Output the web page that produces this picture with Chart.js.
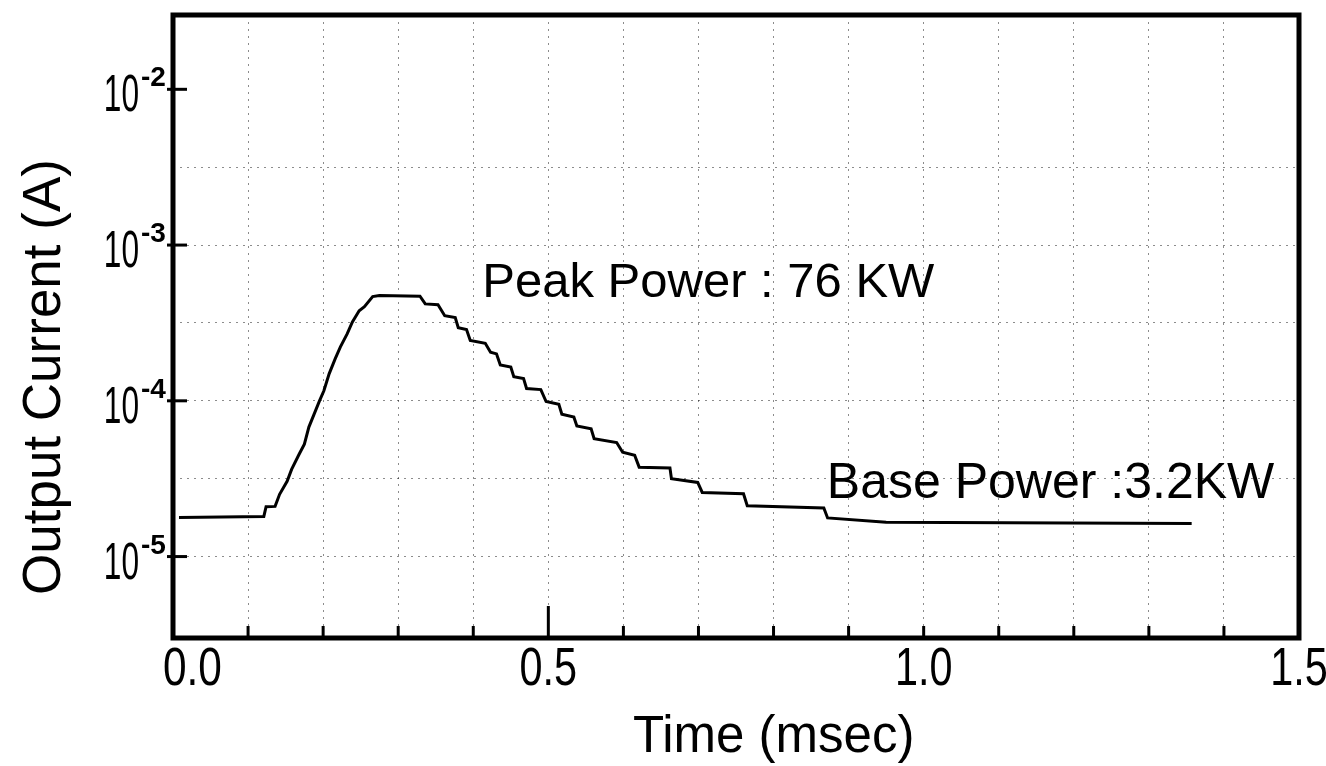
<!DOCTYPE html>
<html>
<head>
<meta charset="utf-8">
<script src="https://cdn.jsdelivr.net/npm/chart.js@4.4.1/dist/chart.umd.min.js"></script>
<style>
  html, body { margin: 0; padding: 0; background: #fff; }
  #wrap { width: 1326px; height: 766px; position: relative; }
</style>
</head>
<body>
<div id="wrap"><canvas id="grafico"></canvas></div>
<script>
// valores (tempo em ms, corrente em A)
const timeMs = [0.008, 0.121, 0.124, 0.136, 0.142, 0.152, 0.158, 0.168, 0.175, 0.181,
  0.188, 0.195, 0.201, 0.208, 0.216, 0.223, 0.232, 0.239, 0.248, 0.255,
  0.266, 0.275, 0.329, 0.336, 0.353, 0.362, 0.376, 0.380, 0.391, 0.396,
  0.416, 0.423, 0.431, 0.436, 0.450, 0.454, 0.467, 0.471, 0.490, 0.497,
  0.514, 0.518, 0.534, 0.538, 0.557, 0.561, 0.591, 0.599, 0.615, 0.621,
  0.662, 0.664, 0.699, 0.705, 0.760, 0.765, 0.867, 0.872, 0.950, 1.357];

const currentA = [1.78e-5, 1.81e-5, 2.09e-5, 2.10e-5, 2.51e-5, 3.04e-5, 3.63e-5, 4.54e-5, 5.27e-5, 6.78e-5,
  8.22e-5, 9.96e-5, 1.16e-4, 1.49e-4, 1.86e-4, 2.22e-4, 2.69e-4, 3.21e-4, 3.79e-4, 4.02e-4,
  4.67e-4, 4.74e-4, 4.70e-4, 4.19e-4, 4.14e-4, 3.52e-4, 3.42e-4, 2.95e-4, 2.87e-4, 2.44e-4,
  2.34e-4, 2.05e-4, 2.00e-4, 1.70e-4, 1.65e-4, 1.43e-4, 1.39e-4, 1.20e-4, 1.18e-4, 9.9e-5,
  9.5e-5, 8.2e-5, 7.87e-5, 6.89e-5, 6.62e-5, 5.71e-5, 5.40e-5, 4.67e-5, 4.47e-5, 3.75e-5,
  3.71e-5, 3.16e-5, 2.99e-5, 2.58e-5, 2.53e-5, 2.12e-5, 2.05e-5, 1.77e-5, 1.66e-5, 1.63e-5];

const xLabelValues = [0.0, 0.5, 1.0, 1.5];
const yDecades = [1e-2, 1e-3, 1e-4, 1e-5];
const yExponents = ['-2', '-3', '-4', '-5'];
const yGridValues = [1e-2, 3.162e-3, 1e-3, 3.162e-4, 1e-4, 3.162e-5, 1e-5];

const anotacoes = [
  { text: 'Peak Power : 76 KW', x: 0.412, y: 4.64e-4, size: 49 },
  { text: 'Base Power :3.2KW', x: 0.871, y: 2.38e-5, size: 50 }
];

const FONTE = "'Liberation Sans', Arial, sans-serif";

// texto estreito (a figura usa letras de normógrafo, mais estreitas)
function textoEstreito(ctx, str, x, y, size, sx, align) {
  ctx.save();
  ctx.font = size + 'px ' + FONTE;
  ctx.textAlign = align;
  ctx.textBaseline = 'alphabetic';
  ctx.translate(x, y);
  ctx.scale(sx, 1);
  ctx.fillText(str, 0, 0);
  ctx.restore();
}

const letreiro = {
  id: 'letreiro',
  afterDraw(chart) {
    const ctx = chart.ctx;
    const area = chart.chartArea;
    const xs = chart.scales.x;
    const ys = chart.scales.y;

    ctx.save();
    ctx.fillStyle = '#000';
    ctx.strokeStyle = '#000';

    // moldura grossa
    ctx.lineWidth = 5;
    ctx.strokeRect(area.left, area.top, area.right - area.left, area.bottom - area.top);

    // marcas internas do eixo x
    ctx.lineWidth = 3;
    xs.ticks.forEach(t => {
      const v = Math.round(t.value * 10) / 10;
      if (v <= 0 || v >= 1.5) return;
      const px = xs.getPixelForValue(t.value);
      const len = Math.abs(v - 0.5) < 1e-6 ? 32 : 12;
      ctx.beginPath();
      ctx.moveTo(px, area.bottom);
      ctx.lineTo(px, area.bottom - len);
      ctx.stroke();
    });

    // rótulos do eixo x
    xLabelValues.forEach(v => {
      const px = xs.getPixelForValue(v);
      if (v === 0) textoEstreito(ctx, v.toFixed(1), px - 10, area.bottom + 47, 53, 0.8, 'left');
      else textoEstreito(ctx, v.toFixed(1), px, area.bottom + 47, 53, 0.78, 'center');
    });

    // marcas e rótulos do eixo y (10 com expoente)
    yDecades.forEach((v, i) => {
      const py = ys.getPixelForValue(v);
      ctx.beginPath();
      ctx.moveTo(area.left - 6, py);
      ctx.lineTo(area.left + 14, py);
      ctx.stroke();

      textoEstreito(ctx, '10', 139, py + 22, 51, 0.62, 'right');
      ctx.font = 'bold 28px ' + FONTE;
      ctx.textAlign = 'left';
      ctx.textBaseline = 'alphabetic';
      ctx.fillText(yExponents[i], 141, py - 3);
    });

    // títulos dos eixos
    ctx.font = '53px ' + FONTE;
    ctx.textAlign = 'left';
    ctx.textBaseline = 'alphabetic';
    ctx.save();
    ctx.translate(60, 595);
    ctx.rotate(-Math.PI / 2);
    ctx.fillText('Output Current (A)', 0, 0);
    ctx.restore();

    ctx.font = '51px ' + FONTE;
    ctx.fillText('Time (msec)', 633, 752);

    // anotações
    anotacoes.forEach(a => {
      ctx.font = a.size + 'px ' + FONTE;
      ctx.fillText(a.text, xs.getPixelForValue(a.x), ys.getPixelForValue(a.y));
    });

    ctx.restore();
  }
};

new Chart(document.getElementById('grafico'), {
  type: 'scatter',
  data: {
    datasets: [{
      label: 'Output Current',
      data: timeMs.map((t, i) => ({ x: t, y: currentA[i] })),
      showLine: true,
      borderColor: '#000',
      borderWidth: 3,
      pointRadius: 0,
      tension: 0
    }]
  },
  options: {
    responsive: true,
    maintainAspectRatio: false,
    animation: false,
    layout: {
      padding: { top: 15, right: 27, left: 0, bottom: 0 },
      autoPadding: false
    },
    plugins: {
      legend: { display: false },
      tooltip: { enabled: false }
    },
    scales: {
      x: {
        type: 'linear',
        min: 0,
        max: 1.5,
        afterFit: s => { s.height = 128; },
        ticks: { stepSize: 0.1, autoSkip: false, display: false },
        grid: {
          drawTicks: false,
          color: 'rgba(0,0,0,0.45)',
          lineWidth: 1
        },
        border: { display: false, dash: [2, 5] }
      },
      y: {
        type: 'logarithmic',
        min: 3e-6,
        max: 3e-2,
        afterFit: s => { s.width = 173; },
        afterBuildTicks: s => { s.ticks = yGridValues.map(v => ({ value: v })); },
        ticks: { display: false },
        grid: {
          drawTicks: false,
          color: c => (c.tick && c.tick.value === 1e-2) ? 'rgba(0,0,0,0)' : 'rgba(0,0,0,0.45)',
          lineWidth: 1
        },
        border: { display: false, dash: [2, 5] }
      }
    }
  },
  plugins: [letreiro]
});
</script>
</body>
</html>
